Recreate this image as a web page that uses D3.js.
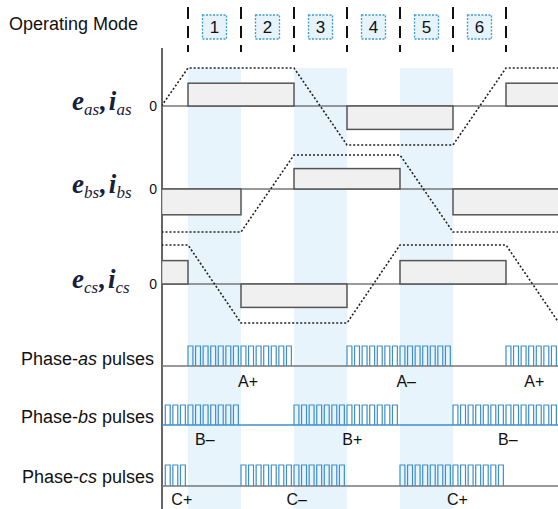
<!DOCTYPE html>
<html>
<head>
<meta charset="utf-8">
<script src="https://cdn.jsdelivr.net/npm/d3@7"></script>
<style>
  body { margin: 0; background: #fff; }
  text { font-family: "Liberation Sans", Arial, sans-serif; fill: #111; }
</style>
</head>
<body>
<svg id="chart" width="558" height="509"></svg>
<script>
// electrical angle (deg) -> time axis, one mode = 60 deg
var modes = [1, 2, 3, 4, 5, 6];
var shadedModes = [1, 3, 5];

// back-emf trapezoids, [angle, per-unit value]
var emfA = [[-30, 0], [0, 1], [120, 1], [180, -1], [300, -1], [360, 1], [420, 1]];
var emfB = [[-30, -1], [60, -1], [120, 1], [240, 1], [300, -1], [420, -1]];
var emfC = [[-30, 1], [0, 1], [60, -1], [180, -1], [240, 1], [360, 1], [420, -1]];

// phase currents, [start, end, sign]
var curA = [[0, 120, 1], [180, 300, -1], [360, 420, 1]];
var curB = [[-30, 60, -1], [120, 240, 1], [300, 420, -1]];
var curC = [[-30, 0, 1], [60, 180, -1], [240, 360, 1]];
var currentLevel = 0.6;

// pulse labels, [angle, text]
var labA = [[68, "A+"], [247, "A\u2013"], [392, "A+"]];
var labB = [[19, "B\u2013"], [186, "B+"], [362, "B\u2013"]];
var labC = [[-7, "C+"], [123, "C\u2013"], [305, "C+"]];

var pulsesPerMode = 7;
var duty = 0.65;

var svg = d3.select("#chart");
var W = 558, H = 509;
var x0 = 162;

var x = d3.scaleLinear().domain([0, 360]).range([188, 506]);

var phases = [
  { name: "as", emf: emfA, cur: curA, y: d3.scaleLinear().domain([-1, 0, 1]).range([145, 106, 68]) },
  { name: "bs", emf: emfB, cur: curB, y: d3.scaleLinear().domain([-1, 0, 1]).range([232, 189, 155]) },
  { name: "cs", emf: emfC, cur: curC, y: d3.scaleLinear().domain([-1, 0, 1]).range([323, 284, 245]) }
];

var pulseRows = [
  { name: "as", cur: curA, labels: labA, base: 366, top: 346, labelY: 387, textY: 365, baseColor: "#777" },
  { name: "bs", cur: curB, labels: labB, base: 425, top: 405, labelY: 445, textY: 423, baseColor: "#3d8fcc" },
  { name: "cs", cur: curC, labels: labC, base: 486, top: 465, labelY: 505, textY: 483, baseColor: "#777" }
];

svg.append("defs").append("clipPath").attr("id", "plot")
  .append("rect").attr("x", x0).attr("y", 0).attr("width", W - x0).attr("height", H);

// shaded modes
svg.append("g").selectAll("rect")
  .data(shadedModes)
  .enter().append("rect")
    .attr("x", function(d) { return x((d - 1) * 60); })
    .attr("y", 68)
    .attr("width", function(d) { return x(d * 60) - x((d - 1) * 60); })
    .attr("height", H - 68)
    .attr("fill", "#e7f4fc");

// operating mode header
svg.append("text")
  .attr("x", 9).attr("y", 30)
  .style("font-size", "18px")
  .text("Operating Mode");

var head = svg.append("g");
head.selectAll("line")
  .data(d3.range(0, 361, 60))
  .enter().append("line")
    .attr("x1", function(d) { return x(d); })
    .attr("x2", function(d) { return x(d); })
    .attr("y1", 7).attr("y2", 52)
    .attr("stroke", "#111")
    .attr("stroke-width", 2)
    .attr("stroke-dasharray", "12,7");

var box = head.selectAll(".mode")
  .data(modes)
  .enter().append("g").attr("class", "mode");

box.append("rect")
  .attr("x", function(d) { return x((d - 0.5) * 60) - 12; })
  .attr("y", 15).attr("width", 24).attr("height", 24)
  .attr("fill", "#e6f3fb")
  .attr("stroke", "#3d9ad6")
  .attr("stroke-width", 1.3)
  .attr("stroke-dasharray", "2,1.5");

box.append("text")
  .attr("x", function(d) { return x((d - 0.5) * 60); })
  .attr("y", 33)
  .attr("text-anchor", "middle")
  .style("font-size", "17px")
  .text(function(d) { return d; });

// vertical axis
svg.append("line")
  .attr("x1", x0).attr("x2", x0)
  .attr("y1", 48).attr("y2", H)
  .attr("stroke", "#666").attr("stroke-width", 2);

var plot = svg.append("g").attr("clip-path", "url(#plot)");

var line = d3.line();

phases.forEach(function(p) {
  var y = p.y;
  // zero line
  plot.append("line")
    .attr("x1", x0).attr("x2", W)
    .attr("y1", y(0)).attr("y2", y(0))
    .attr("stroke", "#777").attr("stroke-width", 1.5);

  // current blocks
  plot.selectAll(".cur-" + p.name)
    .data(p.cur)
    .enter().append("rect")
      .attr("class", "cur-" + p.name)
      .attr("x", function(d) { return x(d[0]); })
      .attr("width", function(d) { return x(d[1]) - x(d[0]); })
      .attr("y", function(d) { return Math.min(y(0), y(d[2] * currentLevel)); })
      .attr("height", function(d) { return Math.abs(y(d[2] * currentLevel) - y(0)); })
      .attr("fill", "#eff0ef")
      .attr("stroke", "#555")
      .attr("stroke-width", 1.5);

  // back emf
  plot.append("path")
    .attr("d", line(p.emf.map(function(d) { return [x(d[0]), y(d[1])]; })))
    .attr("fill", "none")
    .attr("stroke", "#222")
    .attr("stroke-width", 1.6)
    .attr("stroke-dasharray", "2,2");

  svg.append("text")
    .attr("x", 157).attr("y", y(0) + 5)
    .attr("text-anchor", "end")
    .style("font-size", "14px")
    .text("0");

  var lab = svg.append("text")
    .attr("x", 72).attr("y", y(0) + 4)
    .style("font-family", "'Liberation Serif', 'Times New Roman', serif")
    .style("font-style", "italic")
    .style("font-weight", "bold")
    .style("font-size", "27px")
    .style("fill", "#17203a");
  lab.append("tspan").text("e");
  lab.append("tspan").attr("dy", 5).style("font-size", "17px").style("font-weight", "normal").text(p.name);
  lab.append("tspan").attr("dy", -5).attr("dx", 1).text(",");
  lab.append("tspan").attr("dx", 2).text("i");
  lab.append("tspan").attr("dy", 5).style("font-size", "17px").style("font-weight", "normal").text(p.name);
});

// gate pulses
var period = 60 / pulsesPerMode;

pulseRows.forEach(function(r) {
  plot.append("line")
    .attr("x1", x0).attr("x2", W)
    .attr("y1", r.base).attr("y2", r.base)
    .attr("stroke", r.baseColor).attr("stroke-width", 1.5);

  var path = d3.path();
  r.cur.forEach(function(c) {
    var k0 = Math.ceil(c[0] / period - 1e-6), k1 = Math.floor(c[1] / period - 1e-6);
    for (var k = k0; k <= k1; k++) {
      var a = k * period, b = Math.min(a + duty * period, c[1]);
      path.moveTo(x(a), r.base);
      path.lineTo(x(a), r.top);
      path.lineTo(x(b), r.top);
      path.lineTo(x(b), r.base);
    }
  });
  plot.append("path")
    .attr("d", path.toString())
    .attr("fill", "none")
    .attr("stroke", "#3d8fcc")
    .attr("stroke-width", 1.2);

  svg.selectAll(".lab-" + r.name)
    .data(r.labels)
    .enter().append("text")
      .attr("class", "lab-" + r.name)
      .attr("x", function(d) { return x(d[0]); })
      .attr("y", r.labelY)
      .attr("text-anchor", "middle")
      .style("font-size", "16px")
      .text(function(d) { return d[1]; });

  var t = svg.append("text")
    .attr("x", 154).attr("y", r.textY)
    .attr("text-anchor", "end")
    .style("font-size", "18px");
  t.append("tspan").text("Phase-");
  t.append("tspan").style("font-style", "italic").text(r.name);
  t.append("tspan").text(" pulses");
});
</script>
</body>
</html>
